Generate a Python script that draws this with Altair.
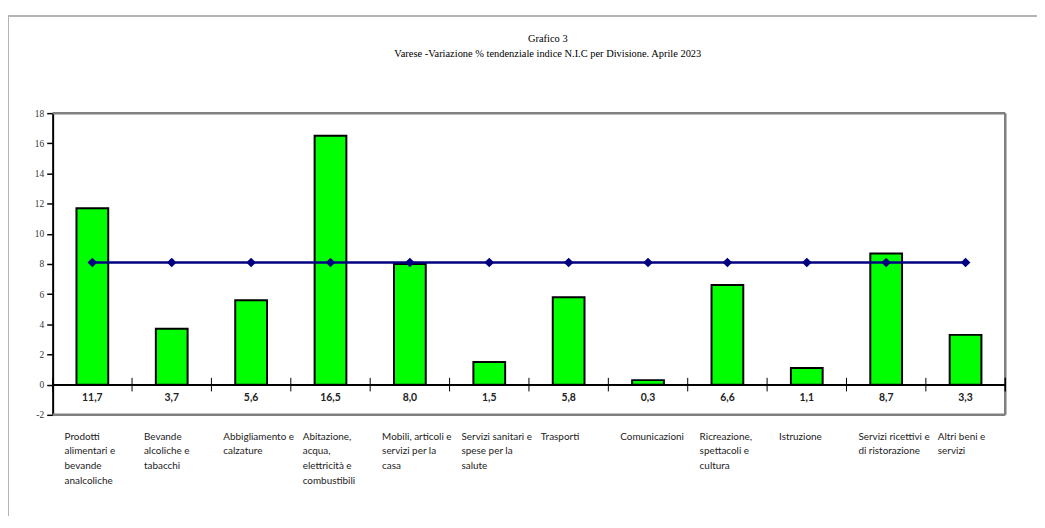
import altair as alt
import pandas as pd

categories = [
    "Prodotti\nalimentari e\nbevande\nanalcoliche",
    "Bevande\nalcoliche e\ntabacchi",
    "Abbigliamento e\ncalzature",
    "Abitazione,\nacqua,\nelettricità e\ncombustibili",
    "Mobili, articoli e\nservizi per la\ncasa",
    "Servizi sanitari e\nspese per la\nsalute",
    "Trasporti",
    "Comunicazioni",
    "Ricreazione,\nspettacoli e\ncultura",
    "Istruzione",
    "Servizi ricettivi e\ndi ristorazione",
    "Altri beni e\nservizi",
]
values = [11.7, 3.7, 5.6, 16.5, 8.0, 1.5, 5.8, 0.3, 6.6, 1.1, 8.7, 3.3]
general_index = [8.1] * 12
y_ticks = list(range(-2, 19, 2))
title_text = "Grafico 3"
subtitle_text = "Varese -Variazione % tendenziale indice N.I.C per  Divisione. Aprile 2023"

keys = [f"c{i:02d}" for i in range(len(categories))]
df = pd.DataFrame({
    "key": keys,
    "cat": categories,
    "catlines": [c.split("\n") for c in categories],
    "val": values,
    "lbl": [f"{v:.1f}".replace(".", ",") for v in values],
    "gen": general_index,
})

W, H = 960, 304
STEP = W / len(keys)
xscale = alt.Scale(domain=keys, paddingInner=0.6, paddingOuter=0.3)
yscale = alt.Scale(domain=[-2, 18], nice=False, zero=False)
xc = alt.X("key:N", scale=xscale, bandPosition=0.5, axis=None)
yax = alt.Axis(values=y_ticks, tickCount=len(y_ticks), title=None, grid=False,
               domainColor="black", domainWidth=2, tickColor="black", tickSize=6,
               tickWidth=1.5, labelFont="Liberation Serif", labelFontSize=9.5,
               labelOverlap=False, labelColor="#333333", labelPadding=3,
               labelExpr="replace(datum.label, '\u2212', '-')")

base = alt.Chart(df)
one = alt.Chart(pd.DataFrame({"t": [title_text], "s": [subtitle_text]}))

border = one.mark_rule(color="#808080", strokeWidth=2.5)
border_top = border.encode(x=alt.value(0), x2=alt.value(W), y=alt.value(0))
border_right = border.encode(x=alt.value(W), y=alt.value(0), y2=alt.value(H))
border_bottom = border.encode(x=alt.value(0), x2=alt.value(W), y=alt.value(H))

bars = base.mark_bar(color="#00FF00", stroke="black", strokeWidth=2).encode(
    x=alt.X("key:N", scale=xscale, axis=None),
    y=alt.Y("val:Q", scale=yscale, axis=yax),
    y2=alt.datum(0),
)

zero_line = base.mark_rule(color="black", strokeWidth=1.3).encode(
    x=alt.value(0), x2=alt.value(W), y=alt.YDatum(0, axis=yax)
)

ticks_x = base.mark_rule(color="black", strokeWidth=1, xOffset=-STEP / 2).encode(
    x=xc, y=alt.YDatum(-0.45, axis=yax), y2=alt.datum(0.45),
)
end_tick = alt.Chart(pd.DataFrame({"key": [keys[-1]]})).mark_rule(
    color="black", strokeWidth=1.5, xOffset=STEP / 2).encode(
    x=xc, y=alt.YDatum(-0.45, axis=yax), y2=alt.datum(0.45),
)

line = base.mark_line(color="#000080", strokeWidth=2.6).encode(
    x=xc, y=alt.Y("gen:Q", scale=yscale, axis=yax),
)
pts = base.mark_point(shape="diamond", filled=True, color="#000080", size=95, opacity=1).encode(
    x=xc, y=alt.Y("gen:Q", scale=yscale, axis=yax),
)

val_labels = base.mark_text(font="Lato", fontWeight="bold", fontSize=10.5, color="#222222",
                            baseline="middle", align="center").encode(
    x=xc, y=alt.value(287), text="lbl:N",
)

cat_labels = base.mark_text(font="Lato", fontSize=10, color="#222222", baseline="top",
                            align="left", lineHeight=15, dx=-28).encode(
    x=xc, y=alt.value(H + 17), text="catlines",
)

title_mark = one.mark_text(font="Liberation Serif", fontSize=10.5, color="black",
                           align="center", baseline="middle").encode(
    x=alt.value(499), y=alt.value(-75), text="t:N")
subtitle_mark = one.mark_text(font="Liberation Serif", fontSize=10.5, color="black",
                              align="center", baseline="middle").encode(
    x=alt.value(499), y=alt.value(-60), text="s:N")

frame_h = one.mark_rule(color="#b3b3b3", strokeWidth=2).encode(
    x=alt.value(-45), x2=alt.value(1100), y=alt.value(-98)
)
frame_v = one.mark_rule(color="#b3b3b3", strokeWidth=2).encode(
    x=alt.value(-45), y=alt.value(-98), y2=alt.value(700)
)

chart = alt.layer(
    frame_h, frame_v, border_top, border_right, border_bottom, bars, zero_line,
    ticks_x, end_tick, line, pts, val_labels, cat_labels, title_mark, subtitle_mark
).properties(
    width=W, height=H,
    autosize=alt.AutoSizeParams(type="none"),
    padding={"left": 45, "top": 104, "right": 32, "bottom": 100},
).configure_view(strokeWidth=0).configure(background="white").configure_axisY(
    labelOverlap=False, labelFont="Liberation Serif", labelFontSize=9.5,
    labelColor="#333333", grid=False
)

chart.save("out.html", embed_options={"renderer": "svg", "actions": False})
